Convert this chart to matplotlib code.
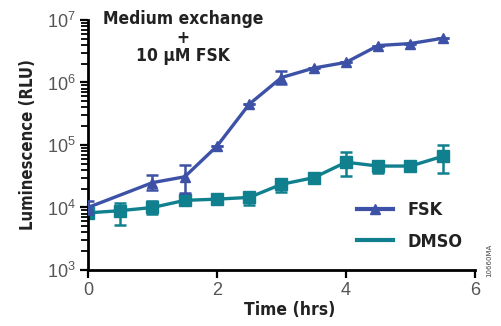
import numpy as np
import matplotlib
matplotlib.use("Agg")
import matplotlib.pyplot as plt
from matplotlib import font_manager as fm
from matplotlib.lines import Line2D
from matplotlib.ticker import LogLocator, NullFormatter

# time points (hrs)
fsk_t = [0, 1, 1.5, 2, 2.5, 3, 3.5, 4, 4.5, 5, 5.5]
fsk_y = [1.0e4, 2.5e4, 3.1e4, 9.6e4, 4.5e5, 1.2e6, 1.7e6, 2.1e6, 3.9e6, 4.2e6, 5.1e6]
fsk_lo = [0.2e4, 0.6e4, 1.4e4, 0, 0, 0.25e6, 0, 0, 0, 0, 0]
fsk_hi = [0.25e4, 0.8e4, 1.6e4, 0, 0, 0.3e6, 0, 0, 0, 0, 0]

dmso_t = [0, 0.5, 1, 1.5, 2, 2.5, 3, 3.5, 4, 4.5, 5, 5.5]
dmso_y = [8.2e3, 8.9e3, 1.0e4, 1.3e4, 1.36e4, 1.45e4, 2.35e4, 3.0e4, 5.3e4, 4.6e4, 4.6e4, 6.6e4]
dmso_lo = [1.0e3, 3.6e3, 2.2e3, 0, 0, 3.5e3, 6.0e3, 0, 2.1e4, 1.0e4, 0, 3.0e4]
dmso_hi = [1.3e3, 3.1e3, 2.8e3, 0, 0, 2.9e3, 5.0e3, 0, 2.3e4, 1.0e4, 0, 3.4e4]

fsk_color = "#3D52A6"
dmso_color = "#10808F"
tick_font = ["Liberation Sans", "DejaVu Sans"]

names = {f.name for f in fm.fontManager.ttflist}
narrow = [n for n in ["Liberation Sans Narrow", "DejaVu Sans Condensed"] if n in names]
bold_font = (narrow[:1] or ["DejaVu Sans"]) + ["DejaVu Sans"]


def bold(size):
    return fm.FontProperties(family=bold_font, weight="bold", stretch="condensed", size=size)


fig = plt.figure(figsize=(5.02, 3.26), dpi=100)
ax = fig.add_axes([0.1753, 0.1718, 0.7709, 0.7669])

ax.errorbar(dmso_t, dmso_y, yerr=[dmso_lo, dmso_hi], color=dmso_color,
            marker="s", markersize=8.5, linewidth=2.4, capsize=4.5,
            capthick=1.8, elinewidth=1.8, zorder=2)
ax.errorbar(fsk_t, fsk_y, yerr=[fsk_lo, fsk_hi], color=fsk_color,
            marker="^", markersize=7.5, linewidth=2.4, capsize=4.5,
            capthick=1.8, elinewidth=1.8, zorder=3)

ax.set_yscale("log")
ax.set_ylim(1e3, 1e7)
ax.set_xlim(0, 6)
ax.set_xticks([0, 2, 4, 6])
ax.yaxis.set_major_locator(LogLocator(base=10, numticks=10))
ax.yaxis.set_minor_locator(LogLocator(base=10, subs=np.arange(2, 10), numticks=20))
ax.yaxis.set_minor_formatter(NullFormatter())

for s in ["top", "right"]:
    ax.spines[s].set_visible(False)
for s in ["left", "bottom"]:
    ax.spines[s].set_linewidth(2.0)
    ax.spines[s].set_color("black")

ax.tick_params(axis="both", which="major", direction="out", length=6, width=1.6,
               labelsize=13, labelcolor="#555555", pad=3)
ax.tick_params(axis="y", which="minor", direction="out", length=5, width=1.3)
for lab in ax.get_xticklabels() + ax.get_yticklabels():
    lab.set_family(tick_font)

ax.set_xlabel("Time (hrs)", fontproperties=bold(12.5), color="#222222")
ax.xaxis.set_label_coords(0.52, -0.125)
ax.set_ylabel("Luminescence (RLU)", fontproperties=bold(12), color="#222222", labelpad=7)

ax.text(1.47, 1.45e7, "Medium exchange\n+\n10 \u00b5M FSK", ha="center", va="top",
        fontproperties=bold(12.5), color="#222222", linespacing=1.05, clip_on=False)

handles = [Line2D([], [], color=fsk_color, linewidth=3, marker="^", markersize=7),
           Line2D([], [], color=dmso_color, linewidth=3)]
leg = ax.legend(handles, ["FSK", "DMSO"], loc="upper left",
                bbox_to_anchor=(0.695, 0.275), frameon=False, handlelength=2.0,
                borderpad=0, borderaxespad=0, handletextpad=0.8, labelspacing=0.75,
                prop=bold(13))
for t in leg.get_texts():
    t.set_color("#222222")

fig.text(0.975, 0.2, "10660MA", rotation=90, fontsize=5, color="#444444",
         ha="center", va="center")

fig.savefig("out.png", dpi=100)
